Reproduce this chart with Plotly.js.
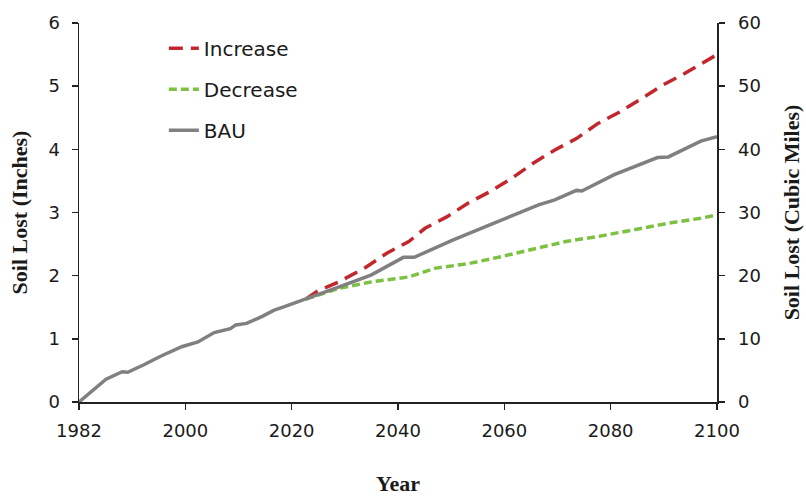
<!DOCTYPE html>
<html>
<head>
<meta charset="utf-8">
<script src="https://cdn.plot.ly/plotly-3.0.1.min.js"></script>
<style>html,body{margin:0;padding:0;background:#fff;}#chart{width:806px;height:496px;}</style>
</head>
<body>
<div id="chart"></div>
<script>
// Tick labels of the x axis (evenly spaced in the original chart)
const xTickLabels = ['1982', '2000', '2020', '2040', '2060', '2080', '2100'];

// BAU series (inches)
const bauYears = [1982, 1985, 1987, 1990, 1991, 1994, 1997, 2001, 2004, 2007, 2010, 2011, 2013, 2016, 2018, 2020, 2024, 2025, 2030, 2036, 2042, 2044, 2051, 2059, 2064, 2067, 2070, 2074, 2075, 2081, 2089, 2091, 2097, 2100];
const bauValues = [0.00, 0.22, 0.36, 0.48, 0.47, 0.59, 0.72, 0.875, 0.95, 1.10, 1.16, 1.22, 1.245, 1.36, 1.45, 1.51, 1.63, 1.67, 1.82, 2.01, 2.29, 2.29, 2.56, 2.84, 3.01, 3.12, 3.20, 3.35, 3.34, 3.60, 3.87, 3.88, 4.13, 4.20];

// Increase series (inches)
const incYears = [2024, 2026, 2030, 2035, 2039, 2043, 2046, 2050, 2054, 2058, 2062, 2066, 2070, 2074, 2078, 2082, 2086, 2090, 2094, 2100];
const incValues = [1.63, 1.75, 1.90, 2.13, 2.36, 2.54, 2.75, 2.93, 3.15, 3.33, 3.54, 3.78, 3.99, 4.17, 4.41, 4.59, 4.80, 5.02, 5.20, 5.50];

// Decrease series (inches)
const decYears = [2024, 2026, 2030, 2036, 2043, 2048, 2054, 2060, 2064, 2066, 2072, 2078, 2084, 2091, 2097, 2100];
const decValues = [1.63, 1.69, 1.80, 1.90, 1.98, 2.12, 2.19, 2.30, 2.38, 2.43, 2.54, 2.62, 2.72, 2.83, 2.91, 2.96];

const xMin = 1982, xMax = 2100;
const xTickVals = xTickLabels.map((_, i) => xMin + i * (xMax - xMin) / (xTickLabels.length - 1));

const tickFont = {family: 'DejaVu Sans, Verdana, sans-serif', size: 18, color: '#1a1a1a'};
const titleFont = {family: 'Liberation Serif, Times New Roman, serif', size: 22, color: '#1a1a1a', weight: 'bold'};

const traces = [
  {x: incYears, y: incValues, name: 'Increase', type: 'scatter', mode: 'lines', legendgroup: 'a',
   line: {color: '#c1272d', width: 3.5, dash: '14px,8px'}},
  {x: decYears, y: decValues, name: 'Decrease', type: 'scatter', mode: 'lines', legendgroup: 'b',
   line: {color: '#7dc142', width: 3.5, dash: '8px,4px'}},
  {x: bauYears, y: bauValues, name: 'BAU', type: 'scatter', mode: 'lines', legendgroup: 'c',
   line: {color: '#808080', width: 3.5}},
  // empty trace so the right-hand (cubic miles) axis is drawn
  {x: [], y: [], type: 'scatter', mode: 'lines', yaxis: 'y2', showlegend: false, hoverinfo: 'skip'}
];

const axisCommon = {
  showline: true, linecolor: '#222', linewidth: 1.5,
  ticks: 'outside', ticklen: 6, tickwidth: 1.5, tickcolor: '#222',
  showgrid: false, zeroline: false, tickfont: tickFont
};

const layout = {
  width: 806, height: 496,
  margin: {l: 79, r: 89, t: 23, b: 94},
  paper_bgcolor: '#fff', plot_bgcolor: '#fff',
  showlegend: true,
  legend: {x: 0.133, y: 0.985, xanchor: 'left', yanchor: 'top', bgcolor: 'rgba(0,0,0,0)',
           font: {family: 'DejaVu Sans, Verdana, sans-serif', size: 20, color: '#1a1a1a'},
           tracegroupgap: 12, traceorder: 'grouped'},
  xaxis: Object.assign({}, axisCommon, {
    range: [xMin, xMax], tickmode: 'array', tickvals: xTickVals, ticktext: xTickLabels,
    ticklabelstandoff: 6,
    title: {text: 'Year', font: titleFont, standoff: 40}
  }),
  yaxis: Object.assign({}, axisCommon, {
    range: [0, 6], tickmode: 'linear', tick0: 0, dtick: 1, ticklabelstandoff: 8,
    title: {text: 'Soil Lost (Inches)', font: titleFont, standoff: 14}
  }),
  yaxis2: Object.assign({}, axisCommon, {
    range: [0, 60], tickmode: 'linear', tick0: 0, dtick: 10, overlaying: 'y', side: 'right', anchor: 'x',
    ticklabelstandoff: 10,
    title: {text: 'Soil Lost (Cubic Miles)', font: titleFont, standoff: 23}
  })
};

Plotly.newPlot('chart', traces, layout, {displayModeBar: false, staticPlot: true});
</script>
</body>
</html>
